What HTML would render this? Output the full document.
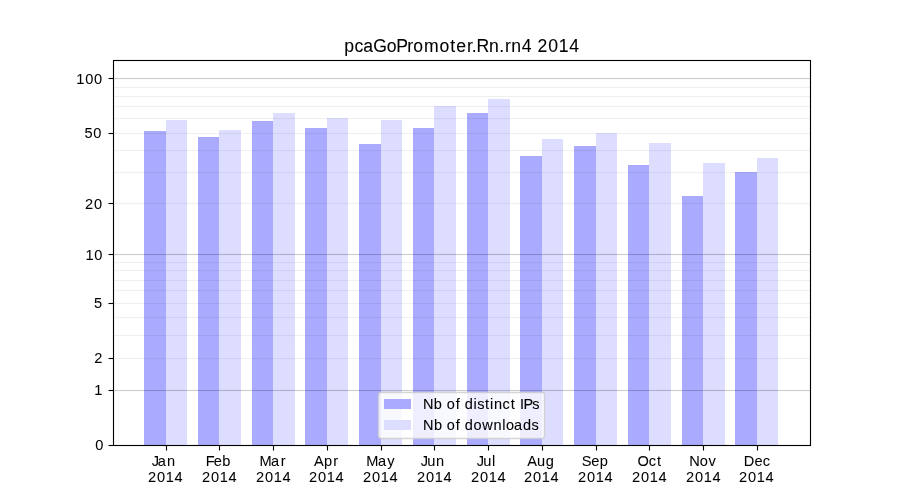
<!DOCTYPE html>
<html lang="en"><head><meta charset="utf-8"><title>pcaGoPromoter.Rn.rn4 2014</title>
<style>
html,body{margin:0;padding:0;background:#ffffff;overflow:hidden}
svg{display:block}
text{font-family:"Liberation Sans",sans-serif;fill:#000000;white-space:pre}
.bar{shape-rendering:crispEdges}
.ln{fill:none;stroke:#000000;stroke-width:1.111}
</style></head><body>
<svg width="900" height="500" viewBox="0 0 900 500">
<rect x="0" y="0" width="900" height="500" fill="#ffffff"/>
<g class="bar">
<rect x="144" y="131" width="22" height="315" fill="#aaaaff"/>
<rect x="166" y="120" width="21" height="326" fill="#ddddff"/>
<rect x="198" y="137" width="21" height="309" fill="#aaaaff"/>
<rect x="219" y="130" width="22" height="316" fill="#ddddff"/>
<rect x="252" y="121" width="21" height="325" fill="#aaaaff"/>
<rect x="273" y="113" width="22" height="333" fill="#ddddff"/>
<rect x="305" y="128" width="22" height="318" fill="#aaaaff"/>
<rect x="327" y="118" width="21" height="328" fill="#ddddff"/>
<rect x="359" y="144" width="22" height="302" fill="#aaaaff"/>
<rect x="381" y="120" width="21" height="326" fill="#ddddff"/>
<rect x="413" y="128" width="21" height="318" fill="#aaaaff"/>
<rect x="434" y="106" width="22" height="340" fill="#ddddff"/>
<rect x="467" y="113" width="21" height="333" fill="#aaaaff"/>
<rect x="488" y="99" width="22" height="347" fill="#ddddff"/>
<rect x="520" y="156" width="22" height="290" fill="#aaaaff"/>
<rect x="542" y="139" width="21" height="307" fill="#ddddff"/>
<rect x="574" y="146" width="22" height="300" fill="#aaaaff"/>
<rect x="596" y="133" width="21" height="313" fill="#ddddff"/>
<rect x="628" y="165" width="21" height="281" fill="#aaaaff"/>
<rect x="649" y="143" width="22" height="303" fill="#ddddff"/>
<rect x="682" y="196" width="21" height="250" fill="#aaaaff"/>
<rect x="703" y="163" width="22" height="283" fill="#ddddff"/>
<rect x="735" y="172" width="22" height="274" fill="#aaaaff"/>
<rect x="757" y="158" width="21" height="288" fill="#ddddff"/>
</g>
<g class="bar" fill="#000000">
<rect x="114" y="78" width="696" height="1" fill-opacity="0.2"/>
<rect x="114" y="77" width="696" height="1" fill-opacity="0.0111"/>
<rect x="114" y="79" width="696" height="1" fill-opacity="0.0111"/>
<rect x="114" y="254" width="696" height="1" fill-opacity="0.2"/>
<rect x="114" y="253" width="696" height="1" fill-opacity="0.0111"/>
<rect x="114" y="255" width="696" height="1" fill-opacity="0.0111"/>
<rect x="114" y="390" width="696" height="1" fill-opacity="0.2"/>
<rect x="114" y="389" width="696" height="1" fill-opacity="0.0111"/>
<rect x="114" y="391" width="696" height="1" fill-opacity="0.0111"/>
<rect x="114" y="87" width="696" height="1" fill-opacity="0.06"/>
<rect x="114" y="86" width="696" height="1" fill-opacity="0.00333"/>
<rect x="114" y="88" width="696" height="1" fill-opacity="0.00333"/>
<rect x="114" y="96" width="696" height="1" fill-opacity="0.06"/>
<rect x="114" y="95" width="696" height="1" fill-opacity="0.00333"/>
<rect x="114" y="97" width="696" height="1" fill-opacity="0.00333"/>
<rect x="114" y="106" width="696" height="1" fill-opacity="0.06"/>
<rect x="114" y="105" width="696" height="1" fill-opacity="0.00333"/>
<rect x="114" y="107" width="696" height="1" fill-opacity="0.00333"/>
<rect x="114" y="118" width="696" height="1" fill-opacity="0.06"/>
<rect x="114" y="117" width="696" height="1" fill-opacity="0.00333"/>
<rect x="114" y="119" width="696" height="1" fill-opacity="0.00333"/>
<rect x="114" y="133" width="696" height="1" fill-opacity="0.06"/>
<rect x="114" y="132" width="696" height="1" fill-opacity="0.00333"/>
<rect x="114" y="134" width="696" height="1" fill-opacity="0.00333"/>
<rect x="114" y="150" width="696" height="1" fill-opacity="0.06"/>
<rect x="114" y="149" width="696" height="1" fill-opacity="0.00333"/>
<rect x="114" y="151" width="696" height="1" fill-opacity="0.00333"/>
<rect x="114" y="172" width="696" height="1" fill-opacity="0.06"/>
<rect x="114" y="171" width="696" height="1" fill-opacity="0.00333"/>
<rect x="114" y="173" width="696" height="1" fill-opacity="0.00333"/>
<rect x="114" y="203" width="696" height="1" fill-opacity="0.06"/>
<rect x="114" y="202" width="696" height="1" fill-opacity="0.00333"/>
<rect x="114" y="204" width="696" height="1" fill-opacity="0.00333"/>
<rect x="114" y="262" width="696" height="1" fill-opacity="0.06"/>
<rect x="114" y="261" width="696" height="1" fill-opacity="0.00333"/>
<rect x="114" y="263" width="696" height="1" fill-opacity="0.00333"/>
<rect x="114" y="270" width="696" height="1" fill-opacity="0.06"/>
<rect x="114" y="269" width="696" height="1" fill-opacity="0.00333"/>
<rect x="114" y="271" width="696" height="1" fill-opacity="0.00333"/>
<rect x="114" y="280" width="696" height="1" fill-opacity="0.06"/>
<rect x="114" y="279" width="696" height="1" fill-opacity="0.00333"/>
<rect x="114" y="281" width="696" height="1" fill-opacity="0.00333"/>
<rect x="114" y="290" width="696" height="1" fill-opacity="0.06"/>
<rect x="114" y="289" width="696" height="1" fill-opacity="0.00333"/>
<rect x="114" y="291" width="696" height="1" fill-opacity="0.00333"/>
<rect x="114" y="303" width="696" height="1" fill-opacity="0.06"/>
<rect x="114" y="302" width="696" height="1" fill-opacity="0.00333"/>
<rect x="114" y="304" width="696" height="1" fill-opacity="0.00333"/>
<rect x="114" y="317" width="696" height="1" fill-opacity="0.06"/>
<rect x="114" y="316" width="696" height="1" fill-opacity="0.00333"/>
<rect x="114" y="318" width="696" height="1" fill-opacity="0.00333"/>
<rect x="114" y="335" width="696" height="1" fill-opacity="0.06"/>
<rect x="114" y="334" width="696" height="1" fill-opacity="0.00333"/>
<rect x="114" y="336" width="696" height="1" fill-opacity="0.00333"/>
<rect x="114" y="358" width="696" height="1" fill-opacity="0.06"/>
<rect x="114" y="357" width="696" height="1" fill-opacity="0.00333"/>
<rect x="114" y="359" width="696" height="1" fill-opacity="0.00333"/>
</g>
<g class="ln" stroke-linecap="square">
<path d="M113.5 60.5 V445.5"/>
<path d="M810.5 60.5 V445.5"/>
</g>
<g class="bar" fill="#000000">
<rect x="113" y="60" width="698" height="1" fill-opacity="1"/>
<rect x="113" y="59" width="698" height="1" fill-opacity="0.0555"/>
<rect x="113" y="61" width="698" height="1" fill-opacity="0.0555"/>
<rect x="113" y="445" width="698" height="1" fill-opacity="1"/>
<rect x="113" y="444" width="698" height="1" fill-opacity="0.0555"/>
<rect x="113" y="446" width="698" height="1" fill-opacity="0.0555"/>
</g>
<g class="ln">
<path d="M108.5 78.5 H113.5"/>
<path d="M108.5 133.5 H113.5"/>
<path d="M108.5 203.5 H113.5"/>
<path d="M108.5 254.5 H113.5"/>
<path d="M108.5 303.5 H113.5"/>
<path d="M108.5 358.5 H113.5"/>
<path d="M108.5 390.5 H113.5"/>
<path d="M108.5 445.5 H113.5"/>
<path d="M166.5 445.5 V450.5"/>
<path d="M219.5 445.5 V450.5"/>
<path d="M273.5 445.5 V450.5"/>
<path d="M327.5 445.5 V450.5"/>
<path d="M381.5 445.5 V450.5"/>
<path d="M434.5 445.5 V450.5"/>
<path d="M488.5 445.5 V450.5"/>
<path d="M542.5 445.5 V450.5"/>
<path d="M596.5 445.5 V450.5"/>
<path d="M649.5 445.5 V450.5"/>
<path d="M703.5 445.5 V450.5"/>
<path d="M757.5 445.5 V450.5"/>
</g>
<path d="M381.5 438.5 L542.5 438.5 Q544.5 438.5 544.5 435.5 L544.5 395.5 Q544.5 392.5 542.5 392.5 L381.5 392.5 Q378.5 392.5 378.5 395.5 L378.5 435.5 Q378.5 438.5 381.5 438.5 Z" fill="#ffffff" fill-opacity="0.8" stroke="#cccccc" stroke-opacity="0.8" stroke-width="1.389"/>
<g class="bar"><rect x="384" y="399" width="27" height="10" fill="#aaaaff"/><rect x="384" y="420" width="27" height="10" fill="#ddddff"/></g>
<g style="mix-blend-mode:multiply">
<text x="344.36 354.39 363.13 373.35 386.83 396.22 407.35 413.22 424.02 439.59 450.33 456.34 467.11 471.81 476.60 488.88 499.19 505.09 511.25 521.77 531.94 537.41 548.21 558.70 569.36" y="52.00" font-size="17.60" stroke="#000000" stroke-width="0.08">pcaGoPromoter.Rn.rn4 2014</text>
<text x="76.23 85.13 93.96" y="84.00" font-size="14.60" stroke="#000000" stroke-width="0.05">100</text>
<text x="84.39 93.28" y="138.00" font-size="14.60" stroke="#000000" stroke-width="0.05">50</text>
<text x="85.04 94.05" y="209.00" font-size="14.60" stroke="#000000" stroke-width="0.05">20</text>
<text x="85.40 94.30" y="260.00" font-size="14.60" stroke="#000000" stroke-width="0.05">10</text>
<text x="93.95" y="308.00" font-size="14.60" stroke="#000000" stroke-width="0.05">5</text>
<text x="94.19" y="363.00" font-size="14.60" stroke="#000000" stroke-width="0.05">2</text>
<text x="94.24" y="395.00" font-size="14.60" stroke="#000000" stroke-width="0.05">1</text>
<text x="95.19" y="450.00" font-size="14.60" stroke="#000000" stroke-width="0.05">0</text>
<text x="422.96 433.85 442.19 446.82 455.70 459.98 464.68 473.52 477.14 484.95 490.04 493.97 502.40 510.67 515.44 519.88 523.52 532.16" y="409.00" font-size="14.50" stroke="#000000" stroke-width="0.10">Nb of distinct IPs</text>
<text x="423.01 433.90 442.24 446.87 455.75 460.02 464.73 473.46 482.17 493.48 502.19 505.95 513.92 523.01 531.62" y="430.00" font-size="14.50" stroke="#000000" stroke-width="0.10">Nb of downloads</text>
<text x="151.79 157.76 166.97" y="466.00" font-size="14.60" stroke="#000000" stroke-width="0.05">Jan</text>
<text x="147.89 156.90 165.66 174.56" y="482.00" font-size="14.60" stroke="#000000" stroke-width="0.05">2014</text>
<text x="205.66 213.63 222.36" y="466.00" font-size="14.60" stroke="#000000" stroke-width="0.05">Feb</text>
<text x="201.89 210.90 219.66 228.56" y="482.00" font-size="14.60" stroke="#000000" stroke-width="0.05">2014</text>
<text x="259.39 271.12 280.64" y="466.00" font-size="14.60" stroke="#000000" stroke-width="0.05">Mar</text>
<text x="255.89 264.90 273.66 282.56" y="482.00" font-size="14.60" stroke="#000000" stroke-width="0.05">2014</text>
<text x="314.07 324.12 333.18" y="466.00" font-size="14.60" stroke="#000000" stroke-width="0.05">Apr</text>
<text x="308.89 317.90 326.66 335.56" y="482.00" font-size="14.60" stroke="#000000" stroke-width="0.05">2014</text>
<text x="366.34 378.07 387.36" y="466.00" font-size="14.60" stroke="#000000" stroke-width="0.05">May</text>
<text x="362.89 371.90 380.66 389.56" y="482.00" font-size="14.60" stroke="#000000" stroke-width="0.05">2014</text>
<text x="420.64 427.26 436.11" y="466.00" font-size="14.60" stroke="#000000" stroke-width="0.05">Jun</text>
<text x="416.89 425.90 434.66 443.56" y="482.00" font-size="14.60" stroke="#000000" stroke-width="0.05">2014</text>
<text x="476.67 483.29 492.08" y="466.00" font-size="14.60" stroke="#000000" stroke-width="0.05">Jul</text>
<text x="470.89 479.90 488.66 497.56" y="482.00" font-size="14.60" stroke="#000000" stroke-width="0.05">2014</text>
<text x="527.15 537.08 545.83" y="466.00" font-size="14.60" stroke="#000000" stroke-width="0.05">Aug</text>
<text x="523.89 532.90 541.66 550.56" y="482.00" font-size="14.60" stroke="#000000" stroke-width="0.05">2014</text>
<text x="581.71 591.14 599.87" y="466.00" font-size="14.60" stroke="#000000" stroke-width="0.05">Sep</text>
<text x="577.89 586.90 595.66 604.56" y="482.00" font-size="14.60" stroke="#000000" stroke-width="0.05">2014</text>
<text x="637.57 648.70 656.99" y="466.00" font-size="14.60" stroke="#000000" stroke-width="0.05">Oct</text>
<text x="631.89 640.90 649.66 658.56" y="482.00" font-size="14.60" stroke="#000000" stroke-width="0.05">2014</text>
<text x="689.15 699.80 708.56" y="466.00" font-size="14.60" stroke="#000000" stroke-width="0.05">Nov</text>
<text x="685.89 694.90 703.66 712.56" y="482.00" font-size="14.60" stroke="#000000" stroke-width="0.05">2014</text>
<text x="743.67 754.50 762.79" y="466.00" font-size="14.60" stroke="#000000" stroke-width="0.05">Dec</text>
<text x="738.89 747.90 756.66 765.56" y="482.00" font-size="14.60" stroke="#000000" stroke-width="0.05">2014</text>
</g>
</svg>
</body></html>
